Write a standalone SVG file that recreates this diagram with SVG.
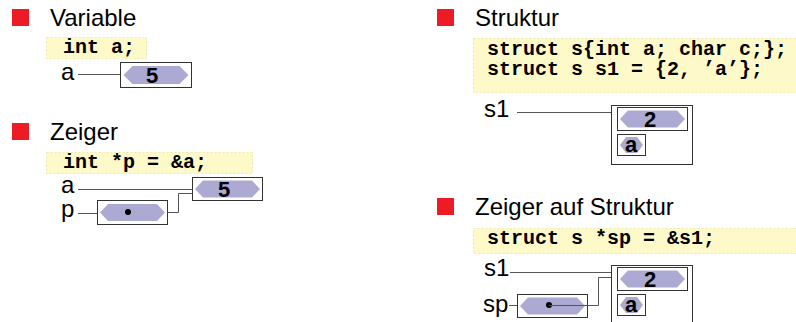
<svg xmlns="http://www.w3.org/2000/svg" xmlns:xlink="http://www.w3.org/1999/xlink" width="796" height="322" viewBox="0 0 796 322">
<style>
.bullet{fill:#ed1c24}
.head{font-family:"Liberation Sans",Arial,sans-serif;font-size:24px;fill:#000}
.lbl{font-family:"Liberation Sans",Arial,sans-serif;font-size:24px;fill:#000}
.code{font-family:"Liberation Mono","Courier New",monospace;font-weight:bold;font-size:20px;fill:#000}
.codebox{fill:#fdf9c9;stroke:#f1e9a8;stroke-width:1;stroke-dasharray:2 2}
.box{fill:#fff;stroke:#333;stroke-width:1}
.hex{fill:#aca9d3}
.val{font-family:"Liberation Sans",Arial,sans-serif;font-weight:bold;font-size:22px;text-anchor:middle;fill:#000}
.con{fill:none;stroke:#555;stroke-width:1}
.dot{fill:#000}
</style>
<defs>
<polygon id="hexL" class="hex" points="0,9 9,0 56,0 65,9 56,18 9,18"/>
<polygon id="hexM" class="hex" points="0,8.5 8,0 57,0 65,8.5 57,17 8,17"/>
<polygon id="hexS" class="hex" points="0,8 6,0 17,0 23,8 17,16 6,16"/>
</defs>

<g id="variable">
<rect class="bullet" x="12" y="9" width="17" height="17"/>
<text class="head" x="50" y="26">Variable</text>
<rect class="codebox" x="46.5" y="37.5" width="100" height="21"/>
<text class="code" x="63" y="53">int a;</text>
<text class="lbl" x="61" y="80">a</text>
</g>
<g id="var-a">
<rect class="box" x="120.5" y="62.5" width="71" height="25"/>
<use xlink:href="#hexL" x="123.5" y="66"/>
<text class="val" x="152" y="83">5</text>
</g>

<g id="zeiger">
<rect class="bullet" x="12" y="123" width="17" height="17"/>
<text class="head" x="50" y="140">Zeiger</text>
<rect class="codebox" x="46.5" y="152.5" width="206" height="21"/>
<text class="code" x="63" y="168">int *p = &amp;a;</text>
<text class="lbl" x="61" y="193">a</text>
<text class="lbl" x="61" y="217">p</text>
</g>
<g id="zeiger-a">
<rect class="box" x="192.5" y="177.5" width="70" height="23"/>
<use xlink:href="#hexM" x="195" y="180.5"/>
<text class="val" x="224" y="197">5</text>
</g>
<g id="zeiger-p">
<rect class="box" x="97.5" y="200.5" width="70" height="24"/>
<use xlink:href="#hexM" x="100" y="204"/>
<circle class="dot" cx="128" cy="212" r="3"/>
</g>

<g id="struktur">
<rect class="bullet" x="437" y="9" width="17" height="17"/>
<text class="head" x="475" y="26">Struktur</text>
<rect class="codebox" x="473.5" y="38.5" width="323" height="54"/>
<text class="code" x="487" y="55">struct s{int a; char c;};</text>
<text class="code" x="487" y="75">struct s s1 = {2, ’a’};</text>
<text class="lbl" x="484" y="117">s1</text>
</g>
<g id="struktur-s1">
<rect class="box" x="611.5" y="105.5" width="81" height="59"/>
<rect class="box" x="617.5" y="107.5" width="70" height="23"/>
<use xlink:href="#hexM" x="620" y="110.5"/>
<text class="val" x="650" y="127">2</text>
<rect class="box" x="617.5" y="134.5" width="28" height="21"/>
<use xlink:href="#hexS" x="620" y="137"/>
<text class="val" x="631" y="152">a</text>
</g>

<g id="zeiger-auf-struktur">
<rect class="bullet" x="437" y="198" width="17" height="17"/>
<text class="head" x="475" y="215">Zeiger auf Struktur</text>
<rect class="codebox" x="473.5" y="228.5" width="323" height="25"/>
<text class="code" x="487" y="244">struct s *sp = &amp;s1;</text>
<text class="lbl" x="484" y="276">s1</text>
<text class="lbl" x="483" y="312">sp</text>
</g>
<g id="zs-s1">
<rect class="box" x="611.5" y="265.5" width="81" height="70"/>
<rect class="box" x="617.5" y="267.5" width="70" height="23"/>
<use xlink:href="#hexM" x="620" y="270.5"/>
<text class="val" x="650" y="287">2</text>
<rect class="box" x="617.5" y="294.5" width="28" height="21"/>
<use xlink:href="#hexS" x="620" y="297"/>
<text class="val" x="631" y="312">a</text>
</g>
<g id="zs-sp">
<rect class="box" x="517.5" y="294.5" width="70" height="23"/>
<use xlink:href="#hexM" x="520" y="297.5"/>
<circle class="dot" cx="549" cy="305" r="3"/>
</g>

<g id="connectors">
<path class="con" d="M78,74.5 H120"/>
<path class="con" d="M78,189.5 H192"/>
<path class="con" d="M78,213.5 H97"/>
<path class="con" d="M168,212.5 H178.5 V193.5 H192"/>
<path class="con" d="M517,112.5 H611"/>
<path class="con" d="M510,272.5 H611"/>
<path class="con" d="M509,305.5 H517"/>
<path class="con" d="M549,305.5 H598.5 V277.5 H611"/>
</g>
</svg>
